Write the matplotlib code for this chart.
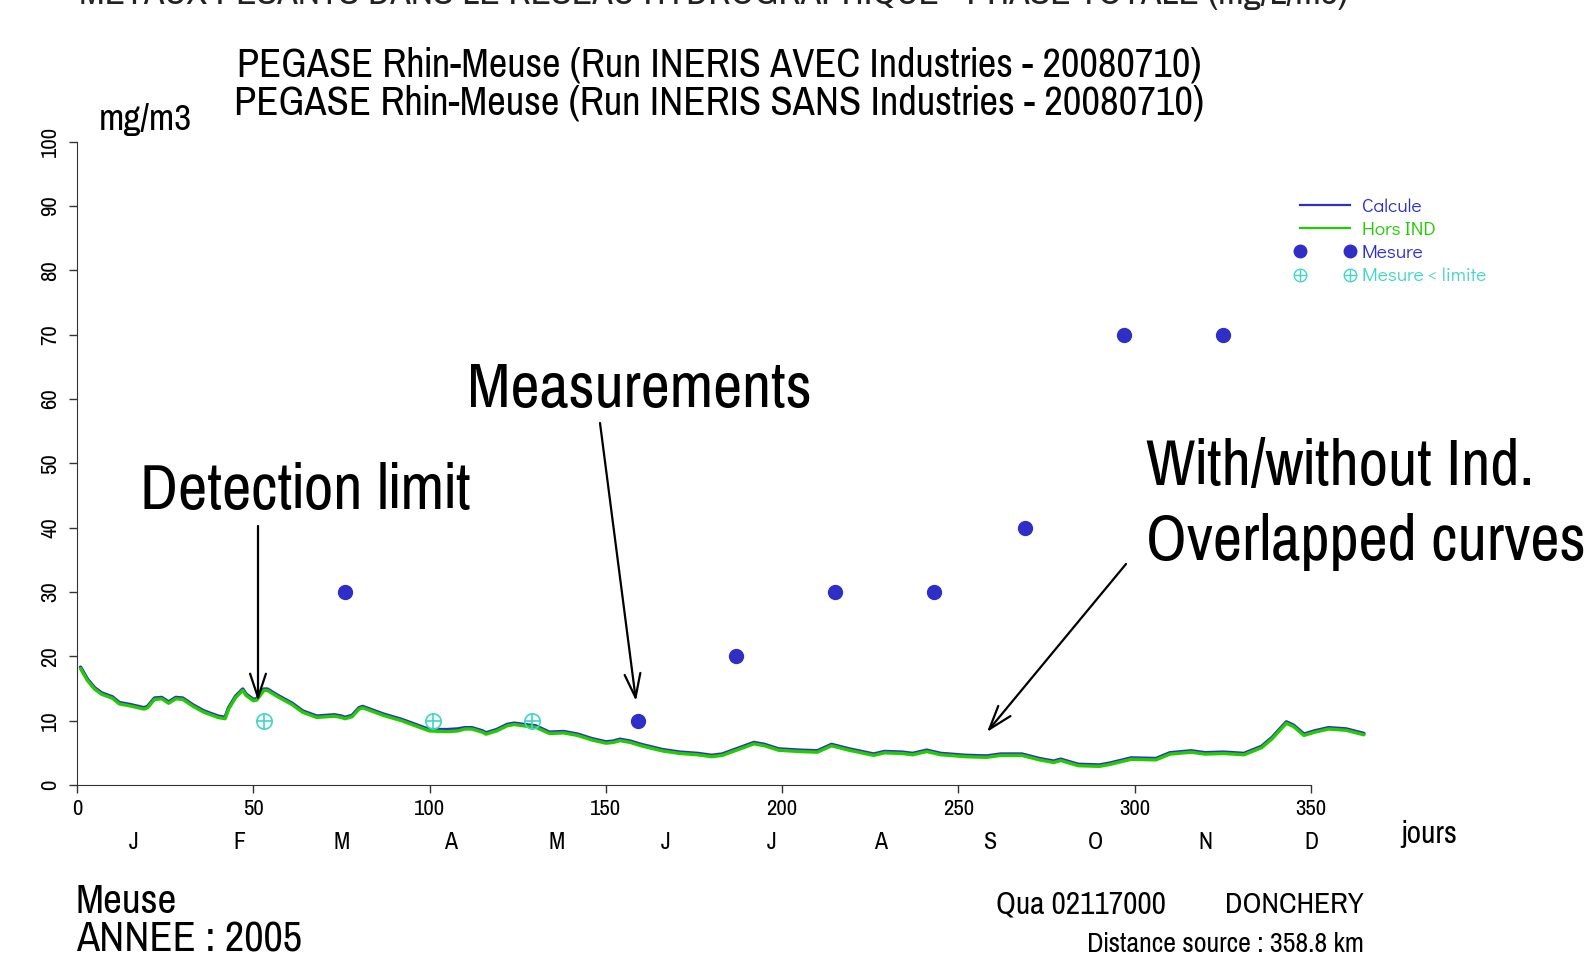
import numpy as np
import matplotlib
matplotlib.use("Agg")
import matplotlib.pyplot as plt
from matplotlib.lines import Line2D
from matplotlib.legend_handler import HandlerLine2D, HandlerTuple

# narrow grotesque first, then whatever is there
NARROW = ['Arial Narrow', 'Liberation Sans Narrow', 'Pragati Narrow', 'Archivo Narrow',
          'Roboto Condensed', 'PT Sans Narrow', 'Liberation Sans', 'DejaVu Sans']
ROUND = ['Didact Gothic', 'Questrial', 'DejaVu Sans']
plt.rcParams['font.family'] = NARROW

# simulated curves (jours, mg/m3)
jours = [1, 3, 5, 7, 10, 12, 15, 19, 20, 22, 24, 26, 28, 30, 33, 36, 40, 42, 43,
         45, 47, 48, 50, 51, 53, 54, 57, 61, 64, 68, 73, 75, 76, 78, 80, 81, 83,
         87, 92, 97, 100, 105, 108, 110, 112, 115, 116, 119, 122, 124, 128, 130,
         134, 138, 142, 146, 150, 152, 154, 157, 160, 166, 171, 176, 180, 183,
         187, 192, 195, 199, 205, 210, 214, 219, 226, 229, 234, 237, 241, 245,
         252, 258, 262, 268, 273, 277, 279, 284, 290, 293, 299, 306, 310, 316,
         320, 325, 331, 336, 339, 343, 345, 348, 351, 355, 360, 365]
hors_ind = [18.1, 16.2, 14.9, 14.1, 13.5, 12.6, 12.3, 11.8, 12.0, 13.3, 13.4, 12.7,
            13.4, 13.3, 12.2, 11.3, 10.5, 10.3, 11.8, 13.6, 14.7, 13.9, 13.1, 13.2,
            14.7, 14.7, 13.7, 12.5, 11.3, 10.5, 10.7, 10.5, 10.3, 10.6, 11.8, 12.0,
            11.6, 10.8, 10.0, 9.0, 8.4, 8.3, 8.4, 8.7, 8.7, 8.2, 7.9, 8.4, 9.2, 9.4,
            9.1, 9.0, 8.0, 8.1, 7.7, 7.0, 6.5, 6.6, 6.9, 6.6, 6.1, 5.3, 4.9, 4.7,
            4.4, 4.6, 5.4, 6.4, 6.1, 5.4, 5.2, 5.1, 6.1, 5.4, 4.6, 5.0, 4.9, 4.7,
            5.2, 4.7, 4.4, 4.3, 4.6, 4.6, 3.9, 3.5, 3.8, 3.0, 2.9, 3.2, 4.0, 3.9,
            4.8, 5.1, 4.8, 4.9, 4.7, 5.8, 7.2, 9.6, 9.1, 7.7, 8.2, 8.7, 8.5, 7.8]
calcule = [18.3, 16.4, 15.1, 14.3, 13.7, 12.8, 12.5, 12.0, 12.2, 13.5, 13.6, 12.9,
           13.6, 13.5, 12.4, 11.5, 10.7, 10.5, 12.0, 13.8, 14.9, 14.1, 13.3, 13.4,
           14.9, 14.9, 13.9, 12.7, 11.5, 10.7, 10.9, 10.7, 10.5, 10.8, 12.0, 12.2,
           11.8, 11.0, 10.2, 9.2, 8.6, 8.6, 8.7, 8.9, 8.9, 8.4, 8.1, 8.6, 9.4, 9.6,
           9.3, 9.2, 8.2, 8.3, 7.9, 7.2, 6.7, 6.8, 7.1, 6.8, 6.3, 5.5, 5.1, 4.9,
           4.6, 4.8, 5.6, 6.6, 6.3, 5.6, 5.4, 5.3, 6.3, 5.6, 4.8, 5.2, 5.1, 4.9,
           5.4, 4.9, 4.6, 4.5, 4.8, 4.8, 4.1, 3.7, 4.0, 3.2, 3.1, 3.4, 4.2, 4.1,
           5.0, 5.3, 5.0, 5.1, 4.9, 6.0, 7.4, 9.8, 9.3, 7.9, 8.4, 8.9, 8.7, 8.0]

# measurements
mes_jours = [76, 159, 187, 215, 243, 269, 297, 325]
mes_val = [30, 10, 20, 30, 30, 40, 70, 70]
lim_jours = [53, 101, 129]
lim_val = [10, 10, 10]

mois = ['J', 'F', 'M', 'A', 'M', 'J', 'J', 'A', 'S', 'O', 'N', 'D']
mois_pos = [16, 46, 75, 106, 136, 167, 197, 228, 259, 289, 320, 350]

BLUE = '#2f2fc8'
GREEN = '#22cc00'
CYAN = '#3fd6c6'

W, H = 1586, 963
fig = plt.figure(figsize=(W / 100, H / 100), dpi=100)
renderer = fig.canvas.get_renderer()

def fit(t, width):
    # scale font so that the text has the wanted width in pixels
    w = t.get_window_extent(renderer).width
    t.set_fontsize(t.get_fontsize() * width / w)
    return t

def fitted_size(s, width, **kw):
    probe = fit(fig.text(0, 0, s, fontsize=16, **kw), width)
    fs = probe.get_fontsize()
    probe.remove()
    return fs

# axes placed in pixels: x=0 at 77px, y=0 at 785px, y=100 at 141.6px from top
px_per_day = (1311 - 77) / 350.0
ax = fig.add_axes([77 / W, (H - 785) / H, 420 * px_per_day / W, (785 - 141.6) / H])
ax.set_xlim(0, 420)
ax.set_ylim(0, 100)
for s in ['top', 'right']:
    ax.spines[s].set_visible(False)
ax.spines['left'].set_bounds(0, 100)
ax.spines['bottom'].set_bounds(0, 350)
ax.spines['left'].set_color('#333333')
ax.spines['bottom'].set_color('#333333')
ax.set_xticks(range(0, 351, 50))
ax.set_yticks(range(0, 101, 10))

# size of tick labels: "100" is about 31 px wide
tick_fs = fitted_size('100', 31)
ax.tick_params(axis='both', direction='out', length=6, width=1, color='#333333',
               labelsize=tick_fs)
ax.tick_params(axis='x', pad=4)
ax.tick_params(axis='y', pad=6)
for lab in ax.get_yticklabels():
    lab.set_rotation(90)
    lab.set_va('center')

ax.plot(jours, calcule, color=BLUE, lw=2.6, solid_capstyle='round', zorder=2)
ax.plot(jours, hors_ind, color=GREEN, lw=2.4, solid_capstyle='round', zorder=3)
ax.plot(mes_jours, mes_val, 'o', color=BLUE, ms=10, zorder=4)
ax.plot(lim_jours, lim_val, ls='none', marker='o', mfc='none', mec=CYAN, mew=1.2,
        ms=11, zorder=4)
ax.plot(lim_jours, lim_val, ls='none', marker='+', mec=CYAN, mew=1.2, ms=11, zorder=4)

# legend
leg_fs = fitted_size('Mesure < limite', 124, family=ROUND)
h1 = Line2D([], [], color=BLUE, lw=1.6)
h2 = Line2D([], [], color=GREEN, lw=1.6)
h3 = Line2D([], [], ls='none', marker='o', color=BLUE, ms=9)
h4a = Line2D([], [], ls='none', marker='o', mfc='none', mec=CYAN, color=CYAN, mew=1, ms=9)
h4b = Line2D([], [], ls='none', marker='+', mec=CYAN, color=CYAN, mew=1, ms=9)
leg = fig.legend([h1, h2, h3, (h4a, h4b)],
                 ['Calcule', 'Hors IND', 'Mesure', 'Mesure < limite'],
                 loc='upper left', bbox_to_anchor=(1300 / W, (H - 198) / H),
                 frameon=False, borderpad=0, borderaxespad=0, numpoints=2,
                 handlelength=50 / (leg_fs * 100 / 72), handletextpad=0.6,
                 labelspacing=0.3,
                 prop={'family': ROUND, 'size': leg_fs},
                 handler_map={Line2D: HandlerLine2D(marker_pad=0, numpoints=2),
                              tuple: HandlerTuple(ndivide=1, pad=0)})
for t, c in zip(leg.get_texts(), [BLUE, GREEN, BLUE, CYAN]):
    t.set_color(c)

# month letters
tr = ax.get_xaxis_transform()
for m, p in zip(mois, mois_pos):
    ax.text(p, -(842.6 - 785) / (785 - 141.6), m, transform=tr, ha='center',
            va='center', fontsize=tick_fs * 1.05)

def ftext(x, y, s, width=None, **kw):
    # x, y in pixels from top-left of the figure
    t = fig.text(x / W, (H - y) / H, s, **kw)
    if width:
        fit(t, width)
    return t

ftext(1401, 834, 'jours', 56, ha='left', va='center', fontsize=17)
ftext(99, 119, 'mg/m3', 93, ha='left', va='center', fontsize=18)
ftext(719, 65, 'PEGASE Rhin-Meuse (Run INERIS AVEC Industries - 20080710)', 966,
      ha='center', va='center', fontsize=27)
ftext(719, 103, 'PEGASE Rhin-Meuse (Run INERIS SANS Industries - 20080710)', 970,
      ha='center', va='center', fontsize=27)
ftext(714, 4, 'METAUX PESANTS DANS LE RESEAU HYDROGRAPHIQUE - PHASE TOTALE (mg/L/m3)',
      1270, ha='center', va='baseline', fontsize=24, color='#222222')
ftext(76, 901, 'Meuse', 101, ha='left', va='center', fontsize=27)
ftext(76, 939, 'ANNEE : 2005', 226, ha='left', va='center', fontsize=27)
ftext(996, 904, 'Qua 02117000', 170, ha='left', va='center', fontsize=23)
ftext(1364, 904, 'DONCHERY', 139, ha='right', va='center', fontsize=23)
ftext(1364, 944, 'Distance source : 358.8 km', 278, ha='right', va='center', fontsize=18)

# annotations with arrows
arrow = dict(arrowstyle='->,head_length=0.9,head_width=0.3', mutation_scale=19,
             lw=1.6, color='black', shrinkA=0, shrinkB=0)
ftext(140, 509, 'Detection limit', 331, ha='left', va='baseline', fontsize=45)
ax.annotate('', xy=(258, H - 701), xycoords='figure pixels',
            xytext=(258, H - 526), textcoords='figure pixels', arrowprops=arrow)
ftext(467, 407, 'Measurements', 345, ha='left', va='baseline', fontsize=45)
ax.annotate('', xy=(636, H - 701), xycoords='figure pixels',
            xytext=(600, H - 423), textcoords='figure pixels', arrowprops=arrow)
t1 = ftext(1146, 485, 'With/without Ind.', 388, ha='left', va='baseline', fontsize=45)
ftext(1146, 560, 'Overlapped curves', ha='left', va='baseline',
      fontsize=t1.get_fontsize())
ax.annotate('', xy=(987, H - 732), xycoords='figure pixels',
            xytext=(1126, H - 564), textcoords='figure pixels', arrowprops=arrow)

fig.savefig('out.png', dpi=100)
